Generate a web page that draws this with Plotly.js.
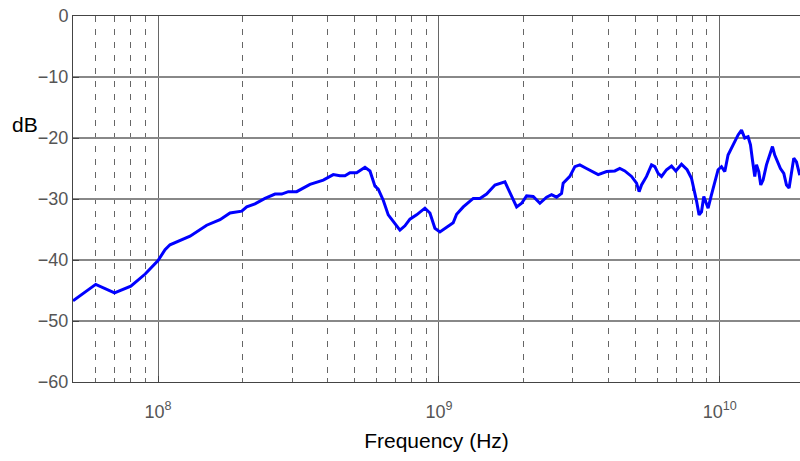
<!DOCTYPE html>
<html>
<head>
<meta charset="utf-8">
<script src="https://cdn.plot.ly/plotly-3.0.1.min.js"></script>
<style>html,body{margin:0;padding:0;background:#fff;}#chart{width:800px;height:461px;}</style>
</head>
<body>
<div id="chart"></div>
<script>
// Frequency in Hz
const freqHz = [
  4.98e7, 6.00e7, 7.00e7, 8.00e7, 9.00e7, 1.00e8, 1.059e8, 1.103e8, 1.30e8, 1.49e8,
  1.662e8, 1.804e8, 1.986e8, 2.069e8, 2.214e8, 2.403e8, 2.609e8, 2.756e8, 2.909e8, 3.116e8,
  3.475e8, 3.876e8, 4.206e8, 4.443e8, 4.629e8, 4.823e8, 5.095e8, 5.454e8, 5.682e8, 5.92e8,
  6.081e8, 6.336e8, 6.601e8, 6.877e8, 7.265e8, 7.568e8, 7.885e8, 8.328e8, 8.916e8, 9.29e8,
  9.678e8, 1.008e9, 1.065e9, 1.124e9, 1.156e9, 1.221e9, 1.325e9, 1.399e9, 1.478e9, 1.583e9,
  1.718e9, 1.815e9, 1.891e9, 1.97e9, 2.052e9, 2.166e9, 2.288e9, 2.417e9, 2.518e9, 2.623e9,
  2.733e9, 2.769e9, 2.925e9, 3.048e9, 3.175e9, 3.354e9, 3.541e9, 3.69e9, 3.953e9, 4.229e9,
  4.406e9, 4.59e9, 4.851e9, 5.054e9, 5.162e9, 5.265e9, 5.485e9, 5.714e9, 5.871e9, 6.032e9,
  6.202e9, 6.462e9, 6.732e9, 6.973e9, 7.306e9, 7.648e9, 7.929e9, 8.147e9, 8.262e9, 8.439e9,
  8.607e9, 8.771e9, 8.967e9, 9.086e9, 9.343e9, 9.598e9, 9.862e9, 1.014e10, 1.042e10, 1.070e10,
  1.101e10, 1.131e10, 1.162e10, 1.195e10, 1.227e10, 1.261e10, 1.286e10, 1.307e10, 1.332e10, 1.351e10,
  1.376e10, 1.399e10, 1.426e10, 1.466e10, 1.506e10, 1.540e10, 1.569e10, 1.599e10, 1.644e10, 1.690e10,
  1.728e10, 1.765e10, 1.800e10, 1.834e10, 1.875e10, 1.926e10
];
// Response in dB
const responseDb = [
  -46.7, -44.0, -45.4, -44.3, -42.3, -40.1, -38.3, -37.5, -36.1, -34.3,
  -33.4, -32.3, -32.0, -31.3, -30.8, -29.9, -29.2, -29.2, -28.8, -28.8,
  -27.6, -26.9, -26.0, -26.2, -26.2, -25.7, -25.7, -24.8, -25.4, -27.9,
  -28.4, -30.2, -32.6, -33.7, -35.1, -34.4, -33.3, -32.6, -31.5, -32.3,
  -34.8, -35.4, -34.6, -33.9, -32.5, -31.3, -29.9, -29.9, -29.2, -27.7,
  -27.2, -29.6, -31.3, -30.7, -29.5, -29.6, -30.7, -29.7, -29.3, -29.7,
  -29.1, -27.4, -26.3, -24.7, -24.4, -25.0, -25.6, -26.0, -25.5, -25.4,
  -25.0, -25.4, -26.3, -27.4, -28.8, -27.7, -26.3, -24.4, -24.7, -25.8,
  -26.3, -25.2, -24.6, -25.4, -24.3, -25.2, -26.6, -28.8, -30.3, -32.6,
  -32.1, -29.6, -30.7, -31.5, -29.3, -27.4, -25.2, -24.7, -25.5, -22.8,
  -21.7, -20.6, -19.5, -18.7, -20.0, -19.8, -21.1, -23.6, -26.3, -24.4,
  -25.5, -27.7, -26.9, -24.4, -22.8, -21.4, -22.8, -23.6, -25.0, -25.8,
  -27.7, -28.2, -25.5, -23.3, -23.9, -26.1
];
const xTickVals = [1e8, 1e9, 1e10];
const xTickText = ['10<sup>8</sup>', '10<sup>9</sup>', '10<sup>10</sup>'];
const yTickVals = [-60, -50, -40, -30, -20, -10, 0];

const trace = {
  x: freqHz, y: responseDb, type: 'scatter', mode: 'lines',
  line: {color: '#0000ff', width: 3}, hoverinfo: 'skip'
};

const layout = {
  width: 800, height: 461,
  margin: {l: 73, r: 0, t: 16, b: 79},
  paper_bgcolor: '#ffffff', plot_bgcolor: '#ffffff',
  showlegend: false,
  font: {family: '"Liberation Sans", Arial, sans-serif', color: '#555555', size: 18},
  xaxis: {
    type: 'log',
    range: [Math.log10(4.98e7), Math.log10(1.93e10)],
    tickmode: 'array', tickvals: xTickVals, ticktext: xTickText,
    ticks: 'inside', ticklen: 6, tickcolor: '#444',
    showline: true, linecolor: '#444', linewidth: 1, mirror: true,
    showgrid: true, gridcolor: '#666666', gridwidth: 1,
    zeroline: false,
    tickfont: {size: 18, color: '#555555'},
    ticklabelstandoff: 13,
    minor: {dtick: 'D1', showgrid: true, gridcolor: '#666666', gridwidth: 1, griddash: '6px,7px', ticks: 'inside', ticklen: 4, tickcolor: '#666'},
    title: {text: 'Frequency (Hz)', font: {size: 21, color: '#000000'}, standoff: 12}
  },
  yaxis: {
    range: [-60, 0],
    tickmode: 'array', tickvals: yTickVals,
    ticks: 'inside', ticklen: 6, tickcolor: '#444',
    showline: true, linecolor: '#444', linewidth: 1,
    showgrid: true, gridcolor: '#888888', gridwidth: 1.5,
    zeroline: false,
    tickfont: {size: 18, color: '#555555'}
  },
  annotations: [{
    text: 'dB', xref: 'paper', yref: 'paper',
    x: (25 - 73) / 727, y: (382 - 124) / 366,
    xanchor: 'center', yanchor: 'middle', showarrow: false,
    font: {size: 21, color: '#000000'}
  }]
};

Plotly.newPlot('chart', [trace], layout, {displayModeBar: false, staticPlot: true});
</script>
</body>
</html>
